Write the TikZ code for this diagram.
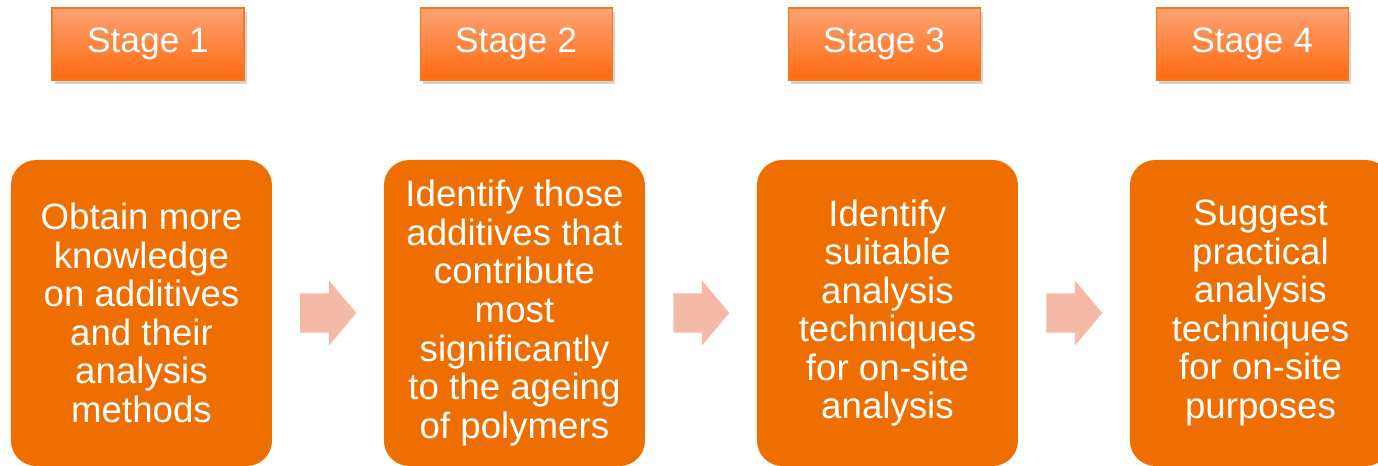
\documentclass[tikz,border=0pt]{standalone}
\usepackage{fontspec}
\setmainfont{Liberation Sans}
\usetikzlibrary{positioning,shapes.arrows,shadows,calc}

\definecolor{boxorange}{HTML}{EE6F00}
\definecolor{stagetop}{HTML}{FBA272}
\definecolor{stagebot}{HTML}{FF6A10}
\definecolor{stageline}{HTML}{F07A1E}
\definecolor{arrowpink}{HTML}{F5B9A8}

\tikzset{
	stagebox/.style={rectangle, draw=stageline, line width=0.8pt, top color=stagetop, bottom color=stagebot, minimum width=144pt, minimum height=54pt, text=white, font=\fontsize{26.5}{30}\selectfont, drop shadow={opacity=0.35, shadow xshift=2pt, shadow yshift=-3pt}},
	taskbox/.style={rectangle, rounded corners=19pt, fill=boxorange, minimum width=195.75pt, minimum height=229.5pt, text=white, align=center, font=\fontsize{27.5}{28.9}\selectfont},
	nextarrow/.style={single arrow, fill=arrowpink, minimum height=42pt, inner xsep=0pt, inner ysep=14.6pt, single arrow head extend=9.75pt, single arrow tip angle=100, xshift=-6pt}
}

\begin{document}
\begin{tikzpicture}[node distance=83.6pt]
		\useasboundingbox (0,0) rectangle (1033.5pt,-349.5pt);
		% task boxes
		\node[taskbox] (b1) at (106.1pt,-234.75pt) {Obtain more\\knowledge\\on additives\\and their\\analysis\\methods};
		\node[taskbox, right=of b1] (b2) {Identify those\\additives that\\contribute\\most\\significantly\\to the ageing\\of polymers};
		\node[taskbox, right=of b2] (b3) {Identify\\suitable\\analysis\\techniques\\for on-site\\analysis};
		\node[taskbox, right=of b3] (b4) {Suggest\\practical\\analysis\\techniques\\for on-site\\purposes};
		% stage labels
		\node[stagebox] (s1) at (111pt,-33pt) {Stage 1};
		\node[stagebox, right=131.25pt of s1] (s2) {Stage 2};
		\node[stagebox, right=131.25pt of s2] (s3) {Stage 3};
		\node[stagebox, right=131.25pt of s3] (s4) {Stage 4};
		% arrows
		\node[nextarrow] (a1) at ($(b1.east)!0.5!(b2.west)$) {};
		\node[nextarrow] (a2) at ($(b2.east)!0.5!(b3.west)$) {};
		\node[nextarrow] (a3) at ($(b3.east)!0.5!(b4.west)$) {};
	\end{tikzpicture}
\end{document}
